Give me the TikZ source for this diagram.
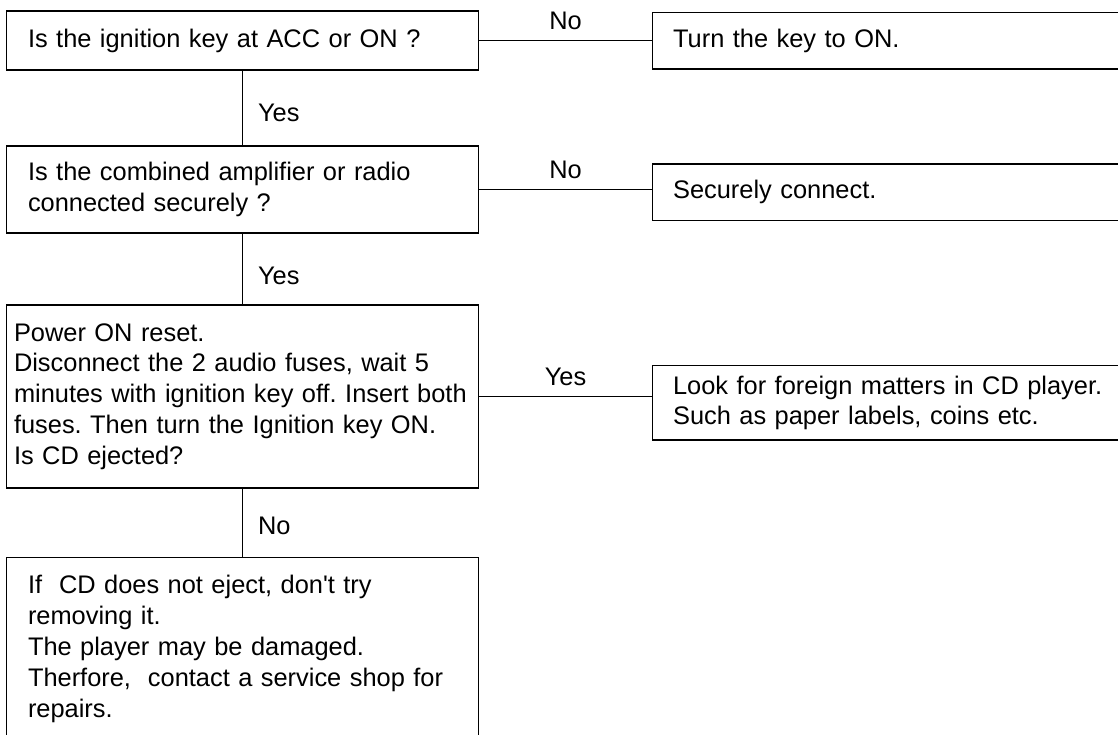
\documentclass[tikz,border=0pt]{standalone}
\usepackage{fontspec}
\setmainfont{Liberation Sans}
\newfontfamily\chartfont{Liberation Sans}
\frenchspacing
\begin{document}
\begin{tikzpicture}[x=1pt,y=-1pt,
  every node/.style={font=\chartfont\fontsize{25.4}{30.8}\selectfont},
  box/.style={draw,line width=1.2pt,align=left,inner ysep=0pt},
  link/.style={line width=1.2pt}]
  \useasboundingbox (0,0) rectangle (1118,734);
  \clip (0,0) rectangle (1118,734);
  % Checks
  \node[box,text width=429pt,minimum width=472pt,minimum height=59pt] (key) at (242.5,40.5) {Is the ignition key at ACC or ON ?};
  \node[box,text width=429pt,minimum width=472pt,minimum height=87pt] (amp) at (242.5,189.5) {Is the combined amplifier or radio\\connected securely ?};
  \node[box,text width=457pt,inner xsep=0pt,minimum width=472pt,minimum height=183pt] (reset) at (242.5,396.5) {Power ON reset.\\Disconnect the 2 audio fuses, wait 5\\minutes with ignition key off. Insert both\\fuses. Then turn the Ignition key ON.\\Is CD ejected?};
  \node[box,text width=429pt,minimum width=472pt,minimum height=183pt] (noeject) at (242.5,649) {If~ CD does not eject, don't try\\removing it.\\The player may be damaged.\\Therfore,~ contact a service shop for\\repairs.};
  % Remedies
  \node[box,text width=440pt,inner xsep=20.5pt,minimum height=56.7pt,anchor=west] (turnon) at (652,40.7) {Turn the key to ON.};
  \node[box,text width=440pt,inner xsep=20.5pt,minimum height=56.7pt,anchor=west] (connect) at (652,192.4) {Securely connect.};
  \node[box,text width=440pt,inner xsep=20.5pt,minimum height=74.3pt,anchor=west] (foreign) at (652,402.9) {Look for foreign matters in CD player.\\Such as paper labels, coins etc.};
  % Flows
  \draw[link] (key) -- (amp) node[pos=0.57,right,inner xsep=15pt] {Yes};
  \draw[link] (amp) -- (reset) node[pos=0.6,right,inner xsep=15pt] {Yes};
  \draw[link] (reset) -- (noeject) node[pos=0.55,right,inner xsep=15pt] {No};
  \draw[link] (key.east) -- (key.east -| turnon.west) node[midway,above,inner sep=10pt] {No};
  \draw[link] (amp.east) -- (amp.east -| connect.west) node[midway,above,inner sep=10pt] {No};
  \draw[link] (reset.east) -- (reset.east -| foreign.west) node[midway,above,inner sep=10pt] {Yes};
\end{tikzpicture}
\end{document}
